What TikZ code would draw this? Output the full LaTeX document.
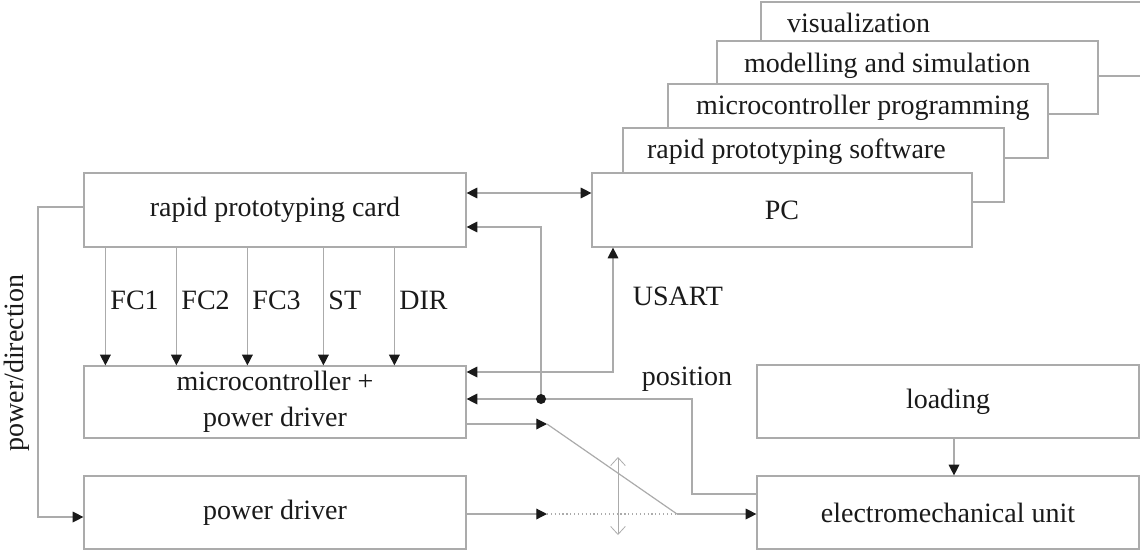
\documentclass[tikz,border=0pt]{standalone}
\usepackage{fontspec}
\setmainfont{Liberation Serif}
\usetikzlibrary{arrows.meta}
\definecolor{linegray}{HTML}{ABABAB}
\definecolor{inkblack}{HTML}{1A1A1A}

\begin{document}
\begin{tikzpicture}[x=0.75pt,y=-0.75pt,
  every node/.style={font=\fontsize{21}{27}\selectfont,text=inkblack},
  box/.style={draw=linegray,line width=0.9pt,fill=white,inner sep=0pt,minimum width=285pt,minimum height=55.5pt,align=center},
  sig/.style={draw=linegray,line width=0.9pt,>={Triangle[color=inkblack,length=8pt,width=8pt]}},
  barb/.style={draw=linegray,line width=0.6pt,{Straight Barb[length=6pt,width=11pt]}-{Straight Barb[length=6pt,width=11pt]}}]
\useasboundingbox (0,0) rectangle (1140,551);
\clip (0,0) rectangle (1140,551);

\node[box] (vis) at (951,39) {};
\node[anchor=base west] (vistxt) at ([shift={(22,31)}]vis.north west) {visualization};
\node[box,minimum width=285.75pt,minimum height=54.75pt] (mas) at (907.5,77.5) {};
\node[anchor=base west] (mastxt) at ([shift={(23,32)}]mas.north west) {modelling and simulation};
\node[box] (mcp) at (858,121) {};
\node[anchor=base west] (mcptxt) at ([shift={(24,31)}]mcp.north west) {microcontroller programming};
\node[box,minimum width=285.75pt] (rps) at (813.5,165) {};
\node[anchor=base west] (rpstxt) at ([shift={(20,31)}]rps.north west) {rapid prototyping software};
\node[box] (pc) at (782,210) {PC};

\node[box,minimum width=286.5pt] (card) at (275,210) {rapid prototyping card};
\node[box,minimum width=286.5pt,minimum height=54pt] (mc) at (275,402) {microcontroller +\\power driver};
\node[box,minimum width=286.5pt,minimum height=54.75pt] (pd) at (275,512.5) {power driver};
\node[box,minimum width=286.5pt,minimum height=54.75pt] (load) at (948,401.5) {loading};
\node[box,minimum width=286.5pt,minimum height=54.75pt] (emu) at (948,512.5) {electromechanical unit};

\coordinate (usart) at (613,372);
\coordinate (fb) at (541,399);
\coordinate (posbend) at (692,399);
\coordinate (swa) at (547,424);
\coordinate (swb) at (547,514);
\coordinate (swc) at (677,514);
\coordinate (pdbend) at (38,517);
\coordinate (act1) at (618,457);
\coordinate (act2) at (618,535);

\foreach \dx/\lbl in {22/FC1,93/FC2,164/FC3,240/ST,311/DIR}
  \draw[sig,->] ([shift={(\dx,0)}]card.south west) -- node[right,pos=0.45] {\lbl} ([shift={(\dx,0)}]mc.north west);

\draw[sig,<->] ([shift={(0,-17)}]card.east) -- ([shift={(0,-17)}]pc.west);
\draw[sig,->] (fb) |- ([shift={(0,17)}]card.east);
\draw[sig,<->] (mc.east |- usart) -| (pc.south -| usart);
\draw[sig,->] ([shift={(0,-18.5)}]emu.west) -| (posbend) -- (mc.east |- fb);
\fill[inkblack] (fb) circle (3.75pt);
\draw[sig,->] (mc.east |- swa) -- (swa);
\draw[sig,->] (pd.east |- swb) -- (swb);
\draw[sig,dotted] (swb) -- (swc);
\draw[sig] (swa) -- (swc);
\draw[sig,->] (swc) -- (emu.west |- swc);
\draw[barb] (act1) -- (act2);
\draw[sig,->] ([shift={(6,0)}]load.south) -- ([shift={(6,0)}]load.south |- emu.north);
\draw[sig,->] ([shift={(0,-3)}]card.west) -| (pdbend) -- (pd.west |- pdbend);

\node[anchor=base] (usartlbl) at (678,305) {USART};
\node[anchor=base] (poslbl) at (687,385) {position};
\node[rotate=90] (pdlbl) at (17,363) {power/direction};
\end{tikzpicture}
\end{document}
